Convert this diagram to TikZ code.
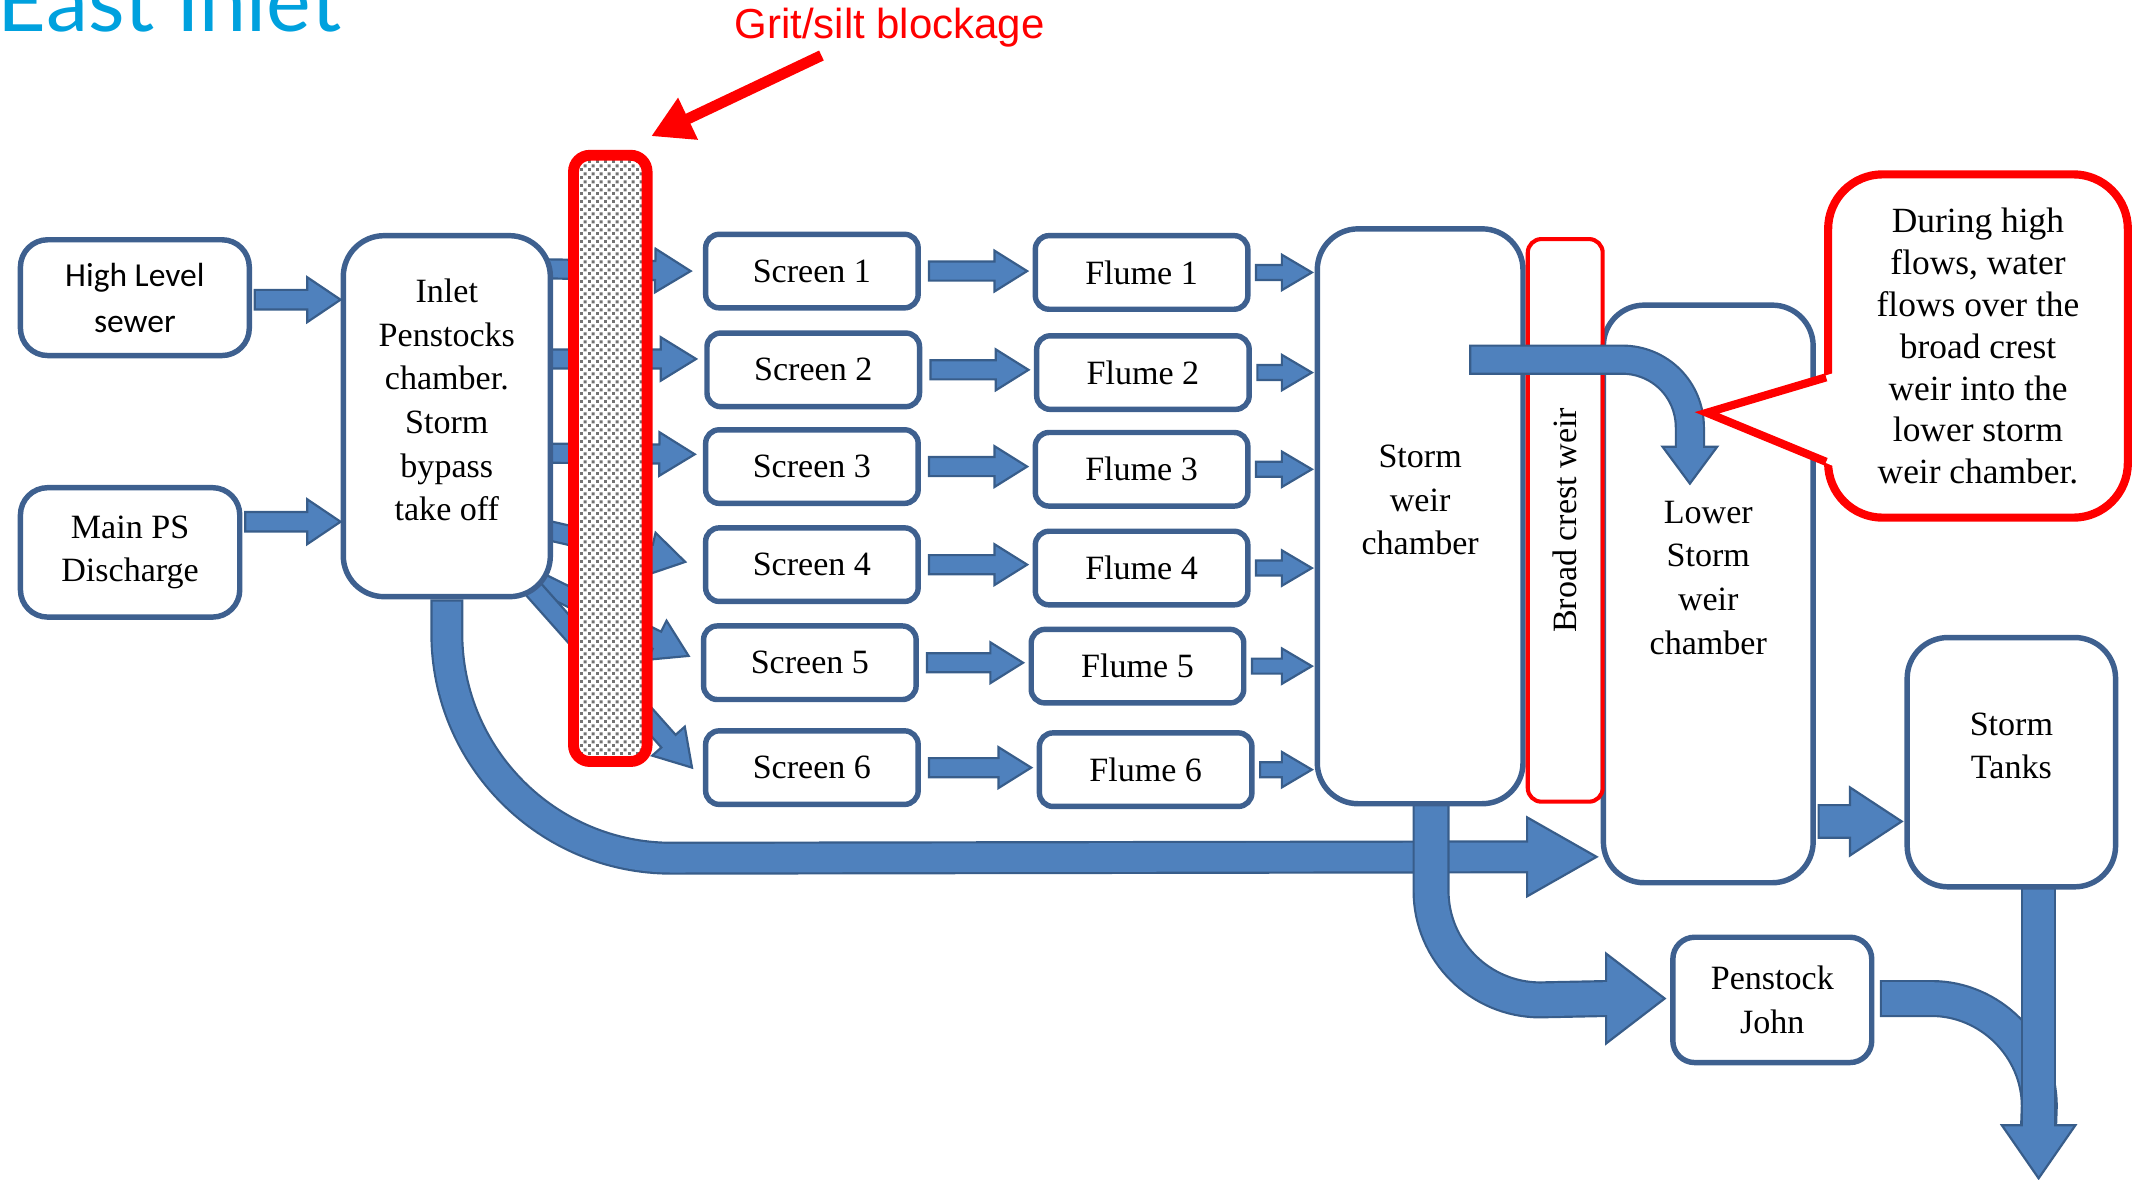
\documentclass[tikz,border=0pt]{standalone}
\usepackage{fontspec}
\setmainfont{Liberation Serif}
\newfontfamily\calfont{Carlito}
\newfontfamily\arialfont{Liberation Sans}
\newfontfamily\titlefont{Lato}
\usetikzlibrary{calc,arrows.meta,patterns}
\pgfdeclarelayer{bg}
\pgfsetlayers{bg,main}
\definecolor{boxc}{RGB}{62,96,143}
\definecolor{afill}{RGB}{79,129,189}
\definecolor{aedge}{RGB}{56,93,138}
\definecolor{titleblue}{RGB}{0,161,222}
\definecolor{gritgray}{RGB}{115,115,115}
\pgfdeclarepatternformonly{gritchk}{\pgfqpoint{0pt}{0pt}}{\pgfqpoint{3pt}{3pt}}{\pgfqpoint{3pt}{3pt}}{%
  \pgfpathrectangle{\pgfqpoint{0pt}{0pt}}{\pgfqpoint{1.15pt}{1.15pt}}%
  \pgfpathrectangle{\pgfqpoint{1.5pt}{1.5pt}}{\pgfqpoint{1.15pt}{1.15pt}}%
  \pgfusepath{fill}}
\tikzset{
  box/.style={draw=boxc, line width=2pt, fill=white, align=center, inner sep=0pt,
    font=\fontsize{12.5}{16}\selectfont},
  scrbox/.style={box, rounded corners=5pt, minimum width=78pt, minimum height=27pt},
  bigbox/.style={box, rounded corners=15pt},
  barrow/.style={fill=afill, draw=aedge, line width=0.8pt, line join=miter},
}
% straight block arrow: A, B, shaft half width, head half width, head length
\newcommand\blockarr[5]{%
  \coordinate (baA) at (#1);
  \coordinate (baB) at (#2);
  \coordinate (baC) at ($(baB)!#5!(baA)$);
  \filldraw[barrow] ($(baA)!#3!90:(baB)$) -- ($(baC)!#3!90:(baB)$) -- ($(baC)!#4!90:(baB)$)
    -- (baB) -- ($(baC)!#4!-90:(baB)$) -- ($(baC)!#3!-90:(baB)$) -- ($(baA)!#3!-90:(baB)$) -- cycle;}
% arrow head only: base, tip, half width
\newcommand\headtri[3]{%
  \filldraw[barrow] ($(#1)!#3!90:(#2)$) -- (#2) -- ($(#1)!#3!-90:(#2)$) -- cycle;}
% curved block arrow: shaft width, path, base, tip, head half width
\newcommand\bendarrow[5]{%
  \draw[aedge, line width=#1+1.6pt] #2;
  \headtri{#3}{#4}{#5}
  \draw[afill, line width=#1, shorten <=0.8pt, shorten >=-1.5pt] #2;}
\begin{document}
\begin{tikzpicture}[x=0.5pt,y=-0.5pt]
\useasboundingbox (0,0) rectangle (1568,865.5);
\clip (0,0) rectangle (1568,865.5);

% ---------- texts on top ----------
\node[anchor=base west, inner sep=0pt, text=titleblue, font=\titlefont\fontsize{31}{31}\selectfont] (title) at (-2,23) {East Inlet};
\node[inner sep=0pt, text=red, font=\arialfont\fontsize{15.4}{18}\selectfont] (gritlabel) at (653,20) {Grit/silt blockage};

% ---------- boxes ----------
\node[box, rounded corners=10pt, minimum width=84pt, minimum height=42.5pt,
  font=\calfont\fontsize{12.3}{17}\selectfont] (hls) at (99,218.5) {High Level\\sewer};
\node[box, rounded corners=10pt, minimum width=80.5pt, minimum height=47.5pt] (mps) at (95.5,405.5) {Main PS\\Discharge};
\node[bigbox, minimum width=76pt, minimum height=132.5pt] (inlet) at (328,305.5)
  {Inlet\\Penstocks\\chamber.\\Storm\\bypass\\take off\\[-4pt]\mbox{}};

\foreach \i/\sx/\sy in {1/596/199,2/597/271.5,3/596/342.5,4/596/414.5,5/594.5/486.5,6/596/563.5}
  \node[scrbox] (scr\i) at (\sx,\sy) {Screen \i};
\foreach \i/\sx/\sy in {1/838/200,2/839/273.5,3/838/344.5,4/838/417,5/835/489,6/841/565}
  \node[scrbox] (fl\i) at (\sx,\sy) {Flume \i};

\node[bigbox, minimum width=75.5pt, minimum height=211pt] (swc) at (1042.5,379) {Storm\\weir\\chamber\\[-4pt]\mbox{}};
\node[bigbox, minimum width=77pt, minimum height=212pt] (lswc) at (1254,436) {Lower\\Storm\\weir\\chamber\\[-4pt]\mbox{}};
\node[draw=red, line width=1.5pt, rounded corners=5pt, rotate=90, minimum width=206.5pt, minimum height=27.5pt,
  inner sep=0pt, font=\fontsize{12.5}{16}\selectfont] (bcw) at (1149,382) {Broad crest weir};
\node[bigbox, minimum width=76.5pt, minimum height=91.5pt] (st) at (1476.5,559.5) {Storm\\Tanks\\[-4pt]\mbox{}};
\node[box, rounded corners=8pt, minimum width=73pt, minimum height=46pt] (pj) at (1301,734) {Penstock\\John};

\node[draw=red, line width=3pt, rounded corners=20pt, fill=white, align=center, minimum width=110pt,
  minimum height=126pt, inner sep=0pt, font=\fontsize{13}{15.4}\selectfont] (callout) at (1452,254)
  {During high\\flows, water\\flows over the\\broad crest\\weir into the\\lower storm\\weir chamber.};

\node[draw=red, line width=4pt, rounded corners=6pt, minimum width=27pt, minimum height=222.5pt, inner sep=0pt,
  preaction={fill=white}, pattern=gritchk, pattern color=gritgray] (grit) at (448,336.5) {};

% ---------- connectors below the boxes ----------
\begin{pgfonlayer}{bg}
  \blockarr{$(inlet.east |- scr1.west)+(-30,-2)$}{$(scr1.west)+(-9,0)$}{3.5pt}{8pt}{13pt}
  \blockarr{$(inlet.east |- scr2.west)+(-30,-8)$}{$(scr2.west)+(-6,-8)$}{3.5pt}{8pt}{13pt}
  \blockarr{$(inlet.east |- scr3.west)+(-30,-10)$}{$(scr3.west)+(-6,-9)$}{3.5pt}{8pt}{13pt}
  \blockarr{$(inlet.east |- scr4.west)+(-25,-30)$}{$(scr4.west)+(-13,-2)$}{3.5pt}{8pt}{13pt}
  \blockarr{$(inlet.south east)+(-25,-20)$}{$(scr5.west)+(-9,-5)$}{3.5pt}{8pt}{13pt}
  \blockarr{$(inlet.south east)+(-30,-25)$}{$(scr6.west)+(-8,0)$}{3.5pt}{8pt}{13pt}

  % bypass
  \coordinate (bpTip) at ($(lswc.west)+(-3,193)$);
  \coordinate (bpBase) at ($(bpTip)+(-51,0)$);
  \bendarrow{10.5pt}{(inlet.south) -- ++(0,25) .. controls +(0,91) and +(-91,0) .. ++(165,165) -- (bpBase)}{bpBase}{bpTip}{14.5pt}

  % storm weir chamber to Penstock John
  \coordinate (pjTip) at ($(pj.west)+(-4,-1)$);
  \coordinate (pjBase) at ($(pjTip)+(-43,0)$);
  \bendarrow{12pt}{($(swc.south)+(8,-5)$) -- ++(0,67) .. controls +(0,44) and +(-44,0) .. ++(80,80) -- (pjBase)}{pjBase}{pjTip}{16.5pt}

  % Penstock John and Storm Tanks outflow
  \coordinate (outTip) at ($(st.south)+(20,212)$);
  \coordinate (outBase) at ($(outTip)+(0,-39)$);
  \draw[aedge, line width=13.6pt] ($(pj.east)+(4,-1)$) -- ++(38,0) .. controls +(43,0) and +(0,-43) .. ++(79,79) -- (outBase);
  \draw[afill, line width=12pt, shorten <=0.8pt] ($(pj.east)+(4,-1)$) -- ++(38,0) .. controls +(43,0) and +(0,-43) .. ++(79,79) -- (outBase);
  \draw[aedge, line width=13.1pt] ($(st.south)+(20,-4)$) -- (outBase);
  \headtri{outBase}{outTip}{13.5pt}
  \draw[afill, line width=11.5pt, shorten >=-1.5pt] ($(st.south)+(20,-4)$) -- (outBase);
\end{pgfonlayer}

% ---------- connectors between boxes ----------
\blockarr{$(hls.east)+(2,1.5)$}{inlet.west |- baA}{3.6pt}{8.25pt}{12.25pt}
\blockarr{$(mps.east)+(2,-22.5)$}{inlet.west |- baA}{3.6pt}{8.25pt}{12.25pt}
\foreach \i in {1,...,6}{
  \blockarr{$(scr\i.east)+(6,0)$}{$(fl\i.west |- baA)+(-4,0)$}{3.5pt}{7.5pt}{12pt}
  \blockarr{$(fl\i.east)+(4,0)$}{$(swc.west |- baA)+(-2,0)$}{2.75pt}{6.5pt}{11pt}
}
\blockarr{$(lswc.east)+(2,167)$}{$(st.west |- baA)+(-2,0)$}{6pt}{12.5pt}{19pt}

% over the broad crest weir
\coordinate (wTip) at ($(lswc.center)+(-13.5,-81)$);
\coordinate (wBase) at ($(wTip)+(0,-27)$);
\bendarrow{9.5pt}{($(swc.center)+(36,-115)$) -- ++(112,0) .. controls +(28,0) and +(0,-28) .. ++(50,50) -- (wBase)}{wBase}{wTip}{10pt}

% callout pointer
\coordinate (pu) at ($(callout.west)+(1.5,23)$);
\coordinate (pl) at ($(callout.west)+(1.5,85)$);
\coordinate (ptip) at ($(callout.west)+(-86,49)$);
\fill[white] ($(pu)+(5,-3)$) -- (ptip) -- ($(pl)+(5,3)$) -- cycle;
\draw[red, line width=3pt, line join=miter] (pu) -- (ptip) -- (pl);

% grit label arrow
\draw[red, line width=4pt, -{Triangle[width=16pt,length=15pt]}] ($(gritlabel.south)+(-50,6)$) -- ($(grit.north east)+(-1,-10)$);
\end{tikzpicture}
\end{document}
